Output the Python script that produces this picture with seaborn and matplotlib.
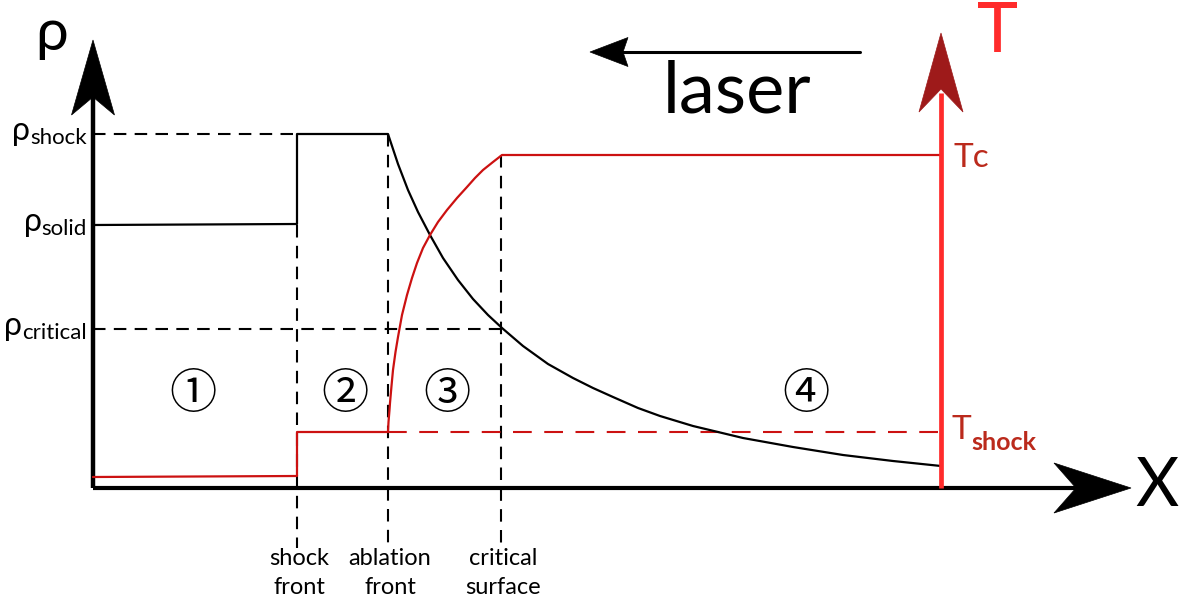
import numpy as np
import pandas as pd
import matplotlib
matplotlib.use("Agg")
import matplotlib.pyplot as plt
from matplotlib.patches import Polygon
import seaborn as sns

# ---- profile data (x measured from the density axis, arbitrary units) ----
x_shock, x_ablation, x_critical, x_T = 204, 295, 408, 848
rho_solid, rho_shock, rho_critical = 263, 354, 159
T_cold, T_shock, T_c = 11, 56, 333

rho_x = [0, 204, 204, 295, 305, 315, 325, 337, 350, 365, 380, 395, 409,
         430, 455, 480, 500, 520, 545, 567, 600, 650, 700, 750, 800, 848]
rho_y = [263, 264, 354, 354, 324, 298, 276, 253, 230, 208, 189, 173, 160,
         142, 124, 110, 100, 91, 80, 72, 62, 50, 41, 33, 27, 22]

T_x = [0, 204, 204, 295, 295.5, 296.5, 297, 298.5, 300, 302.5, 305, 309, 314,
       319, 324, 330, 337, 345, 354, 364, 374, 382, 390, 400, 409, 848]
T_y = [11, 12, 56, 56, 66, 78, 85, 102, 118, 136, 151, 173, 193,
       210, 225, 240, 253, 266, 278, 290, 301, 310, 318, 326, 333, 333]

front_x = [x_shock, x_ablation, x_critical]
front_labels = ["shock\nfront", "ablation\nfront", "critical\nsurface"]
front_tops = [rho_solid, rho_shock, T_c]

region_x = [100, 252, 354, 713]
region_labels = ["①", "②", "③", "④"]

rho_levels = [rho_shock, rho_solid, rho_critical]
rho_subs = ["shock", "solid", "critical"]

# ---- styling ----
sns.set_theme(style="white")
plt.rcParams["font.family"] = ["Lato", "DejaVu Sans"]
plt.rcParams["text.color"] = "black"

RED_AXIS = "#ff2b2b"
RED_HEAD = "#9e1a1a"
RED_CURVE = "#cc1111"
RED_TEXT = "#bb2a1c"
DASH = (6, 4)

fig = plt.figure(figsize=(11.81, 6.06), dpi=100)
ax = fig.add_axes([0, 0, 1, 1])


def arrow_head(tip, direction, length, width, notch, color, z=5):
    tip = np.asarray(tip, float)
    d = np.asarray(direction, float)
    d /= np.linalg.norm(d)
    n = np.array([-d[1], d[0]])
    back = tip - d * length
    pts = [tip, back + n * width / 2, tip - d * (length - notch),
           back - n * width / 2]
    ax.add_patch(Polygon(pts, closed=True, facecolor=color, edgecolor=color,
                         lw=0.5, zorder=z))


# profiles
rho_df = pd.DataFrame({"x": rho_x, "rho": rho_y})
T_df = pd.DataFrame({"x": T_x, "T": T_y})
sns.lineplot(data=rho_df, x="x", y="rho", sort=False, estimator=None,
             color="black", lw=1.6, ax=ax, zorder=5)
sns.lineplot(data=T_df, x="x", y="T", sort=False, estimator=None,
             color=RED_CURVE, lw=1.6, ax=ax, zorder=5)
ax.set_xlim(-93, 1088)
ax.set_ylim(-118, 488)
ax.set_axis_off()

# axes lines
rho_top, x_right, T_top = 448, 1038, 455
ax.plot([0, 0], [0, rho_top - 40], color="black", lw=3.2, zorder=4,
        solid_capstyle="butt")
arrow_head((0, rho_top), (0, 1), 75, 43, 18, "black")
ax.plot([0, x_right - 40], [0, 0], color="black", lw=3.0, zorder=4,
        solid_capstyle="butt")
arrow_head((x_right, 0), (1, 0), 77, 50, 22, "black")
ax.plot([x_T, x_T], [0, T_top - 60], color=RED_AXIS, lw=3.4, zorder=6,
        solid_capstyle="butt")
arrow_head((x_T, T_top), (0, 1), 79, 44, 23, RED_HEAD, z=7)

# reference lines
ax.plot([0, x_shock], [rho_shock, rho_shock], color="black", lw=1.5,
        dashes=DASH, zorder=3)
ax.plot([0, x_critical], [rho_critical, rho_critical], color="black", lw=1.5,
        dashes=DASH, zorder=3)
for fx, top in zip(front_x, front_tops):
    ax.plot([fx, fx], [top, -60], color="black", lw=1.5, dashes=DASH, zorder=3)
ax.plot([x_ablation, x_T], [T_shock, T_shock], color=RED_CURVE, lw=1.5,
        dashes=(9, 6), zorder=3)

# axis titles
ax.text(-41, 455, "ρ", fontsize=42, ha="center", va="center")
ax.text(1064, 1, "X", fontsize=48, ha="center", va="center")
ax.text(905, 456, "T", fontsize=50, ha="center", va="center", color=RED_AXIS)

# temperature labels
ax.text(860, 330, "Tc", fontsize=24, ha="left", va="center", color=RED_TEXT)
t_lab = ax.text(859, 58, "T", fontsize=24, ha="left", va="center",
                color=RED_TEXT)
ax.annotate("shock", xy=(1, 0.08), xycoords=t_lab, fontsize=18,
            ha="left", va="center", color=RED_TEXT, fontweight="bold")

# density levels
for lvl, sub in zip(rho_levels, rho_subs):
    s = ax.text(-6, lvl - 4, sub, fontsize=16, ha="right", va="center")
    ax.annotate("ρ", xy=(0, 0.85), xycoords=s, fontsize=23, ha="right",
                va="center")

# region numbers
for rx, lab in zip(region_x, region_labels):
    ax.text(rx, 93, lab, fontsize=34, ha="center", va="center",
            family=["Noto Sans CJK JP", "DejaVu Sans"])

# front names
for fx, lab in zip(front_x, front_labels):
    ax.text(fx + 2, -85, lab, fontsize=17, ha="center", va="center",
            linespacing=1.5)

# laser direction
ax.plot([767, 530], [436, 436], color="black", lw=2.2, zorder=4)
arrow_head((497, 436), (-1, 0), 38, 29, 5, "black")
ax.text(644, 396, "laser", fontsize=52, ha="center", va="center")

fig.savefig("out.png", dpi=100)
